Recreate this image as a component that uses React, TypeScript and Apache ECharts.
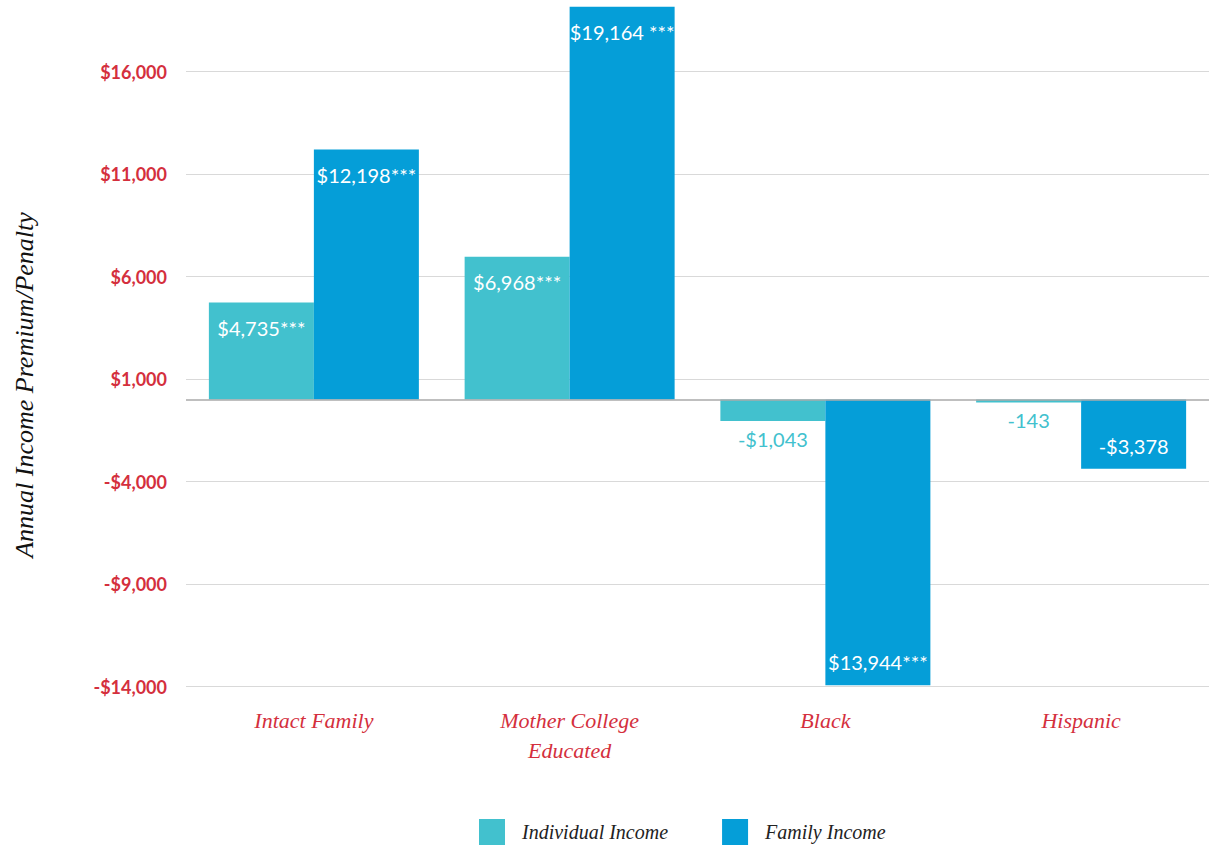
import React, { useEffect, useRef } from "react";
import * as echarts from "echarts";

const categories = ["Intact Family", "Mother College\nEducated", "Black", "Hispanic"];
const individualIncome = [4735, 6968, -1043, -143];
const familyIncome = [12198, 19164, -13944, -3378];
const individualLabels = ["$4,735***", "$6,968***", "-$1,043", "-143"];
const familyLabels = ["$12,198***", "$19,164 ***", "$13,944***", "-$3,378"];
const seriesNames = ["Individual Income", "Family Income"];
const yMin = -14000;
const yMax = 19300;
const tickStep = 5000;
const tickOffset = 1000; // tick labels sit at 1000 + k*5000

const RED = "#d42f3d";
const TEAL = "#42c1ce";
const BLUE = "#059ed8";

function fmtMoney(v: number): string {
  const abs = Math.abs(Math.round(v)).toLocaleString("en-US");
  return (v < 0 ? "-$" : "$") + abs;
}

export default function App() {
  const ref = useRef<HTMLDivElement>(null);

  useEffect(() => {
    if (!ref.current) return;
    const chart = echarts.init(ref.current, undefined, { renderer: "svg" });

    const labelFont = { fontFamily: "Lato", fontSize: 20 };

    const individualData = individualIncome.map((v, i) => ({
      value: v,
      label:
        v >= 0
          ? { show: true, position: "insideTop", distance: 15, color: "#fff", formatter: individualLabels[i], ...labelFont }
          : { show: true, position: "bottom", distance: 8, color: TEAL, formatter: individualLabels[i], ...labelFont },
    }));
    const familyData = familyIncome.map((v, i) => ({
      value: v,
      label:
        v >= 0
          ? { show: true, position: "insideTop", distance: 15, color: "#fff", formatter: familyLabels[i], ...labelFont }
          : { show: true, position: "insideBottom", distance: 13, color: "#fff", formatter: familyLabels[i], ...labelFont },
    }));

    chart.setOption({
      animation: false,
      grid: { left: 186, right: -3, top: 4, bottom: 159.5, containLabel: false },
      legend: {
        data: seriesNames,
        left: 479,
        top: 819,
        padding: 0,
        icon: "rect",
        itemWidth: 26,
        itemHeight: 26,
        itemGap: 54,
        textStyle: {
          fontFamily: "Liberation Serif",
          fontStyle: "italic",
          fontSize: 20,
          lineHeight: 22,
          color: "#222",
          padding: [0, 0, 0, 12],
        },
      },
      graphic: [
        {
          type: "text",
          x: 24,
          y: 385,
          rotation: Math.PI / 2,
          style: {
            text: "Annual Income Premium/Penalty",
            fontFamily: "Liberation Serif",
            fontStyle: "italic",
            fontSize: 26,
            fill: "#111",
            align: "center",
            verticalAlign: "middle",
          },
        },
      ],
      xAxis: {
        type: "category",
        data: categories,
        axisLine: { show: false, onZero: false },
        axisTick: { show: false },
        axisLabel: {
          color: RED,
          fontFamily: "Liberation Serif",
          fontStyle: "italic",
          fontSize: 22,
          lineHeight: 30,
          margin: 19,
        },
      },
      yAxis: [
        {
          type: "value",
          position: "left",
          min: yMin,
          max: yMax,
          show: false,
          splitLine: { show: false },
        },
        {
          type: "value",
          position: "left",
          min: yMin - tickOffset,
          max: yMax - tickOffset,
          interval: tickStep,
          axisLine: { show: false },
          axisTick: { show: false },
          axisLabel: {
            color: RED,
            fontFamily: "Lato",
            fontWeight: "bold",
            fontSize: 18,
            margin: 19,
            showMaxLabel: false,
            formatter: (v: number) =>
              (v - (yMin - tickOffset)) % tickStep === 0 ? fmtMoney(v + tickOffset) : "",
          },
          splitLine: {
            show: true,
            showMaxLine: false,
            lineStyle: { color: "#d9d9d9", width: 1 },
          },
        },
      ],
      series: [
        {
          name: seriesNames[0],
          type: "bar",
          yAxisIndex: 0,
          data: individualData,
          barWidth: 105,
          barGap: "0%",
          itemStyle: { color: TEAL },
          markLine: {
            silent: true,
            symbol: "none",
            label: { show: false },
            lineStyle: { color: "#aaaaaa", width: 1.5, type: "solid" },
            data: [{ yAxis: 0 }],
          },
        },
        {
          name: seriesNames[1],
          type: "bar",
          yAxisIndex: 0,
          data: familyData,
          barWidth: 105,
          barGap: "0%",
          itemStyle: { color: BLUE },
        },
      ],
    });

    return () => chart.dispose();
  }, []);

  return (
    <div
      ref={ref}
      style={{ position: "fixed", left: 0, top: 0, width: 1209, height: 846, background: "#fff" }}
    />
  );
}
